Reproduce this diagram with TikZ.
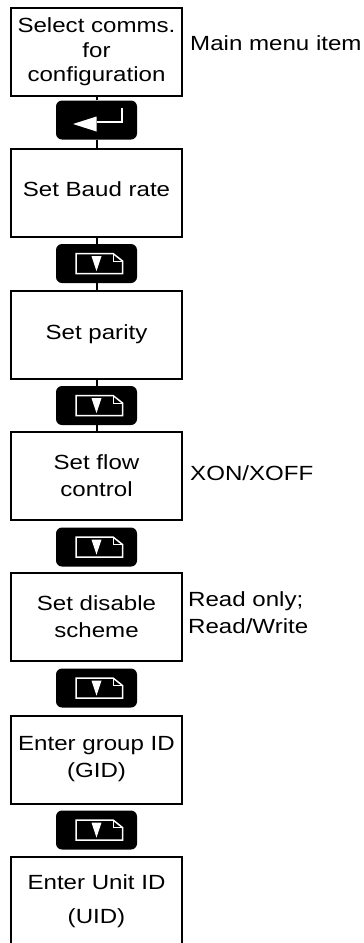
\documentclass[tikz,border=0pt]{standalone}
\usepackage{fontspec}
\setmainfont{Liberation Sans}[FakeStretch=1.175]
\begin{document}
\begin{tikzpicture}[x=1pt,y=-1pt,
  stepbox/.style={draw,line width=2pt,minimum width=171pt,minimum height=88pt,inner sep=0pt,align=center},
  keybox/.style={fill=black,rounded corners=6pt,minimum width=81pt,minimum height=39pt,inner sep=0pt},
  conn/.style={line width=2pt},
  note/.style={inner sep=0pt,align=left},
  icon/.style={white,line width=1.5pt,line join=miter}
]
\useasboundingbox (0,0) rectangle (364,943);
\tikzset{every node/.append style={font=\fontsize{20.5}{25}\selectfont}}

% boxes
\node[stepbox,font=\fontsize{20.5}{24.5}\selectfont] (b1) at (96.5,52) {Select comms.\\for\\configuration};
\node[stepbox] (b2) at (96.5,192.5) {\raisebox{6pt}{Set Baud rate}};
\node[stepbox] (b3) at (96.5,334.5) {\raisebox{2pt}{Set parity}};
\node[stepbox,font=\fontsize{20.5}{27}\selectfont] (b4) at (96.5,475.5) {Set flow\\control};
\node[stepbox,font=\fontsize{20.5}{27}\selectfont] (b5) at (96.5,617) {Set disable\\scheme};
\node[stepbox,font=\fontsize{20.5}{27}\selectfont] (b6) at (96.5,759.5) {Enter group ID\\(GID)};
\node[stepbox,font=\fontsize{20.5}{34}\selectfont] (b7) at (96.5,901) {Enter Unit ID\\(UID)};

% keys
\node[keybox] (k1) at (96.5,120) {};
\node[keybox] (k2) at (96.5,263.5) {};
\node[keybox] (k3) at (96.5,405.5) {};
\node[keybox] (k4) at (96.5,547) {};
\node[keybox] (k5) at (96.5,688) {};
\node[keybox] (k6) at (96.5,830) {};

% connectors
\draw[conn] (b1.south) -- (k1.north);
\draw[conn] (k1.south) -- (b2.north);
\draw[conn] (b2.south) -- (k2.north);
\draw[conn] (k2.south) -- (b3.north);
\draw[conn] (b3.south) -- (k3.north);
\draw[conn] (k3.south) -- (b4.north);

% enter icon
\begin{scope}[shift={(k1.center)}]
  \draw[icon] (25.5,-12) -- (25.5,2) -- (0,2);
  \fill[white] (0,-3.5) -- (0,11.5) -- (-23.5,4) -- cycle;
\end{scope}

% page-down icons
\foreach \k in {k2,k3,k4,k5,k6}{
  \begin{scope}[shift={(\k.center)}]
    \draw[icon] (-20.5,-10) -- (16.5,-10) -- (26,-2.5) -- (26,10) -- (-20.5,10) -- cycle;
    \draw[white,line width=1pt] (16.5,-10) -- (16.5,-2.5) -- (26,-2.5);
    \fill[white] (-5,-7.5) -- (5,-7.5) -- (0,7.5) -- cycle;
  \end{scope}
}

% notes
\node[note,anchor=base west] (n1) at (190,50) {Main menu item};
\node[note,anchor=base west] (n2) at (190,480) {XON/XOFF};
\node[note,anchor=west,font=\fontsize{20.5}{27}\selectfont] (n3) at (188,613) {Read only;\\Read/Write};
\end{tikzpicture}
\end{document}
